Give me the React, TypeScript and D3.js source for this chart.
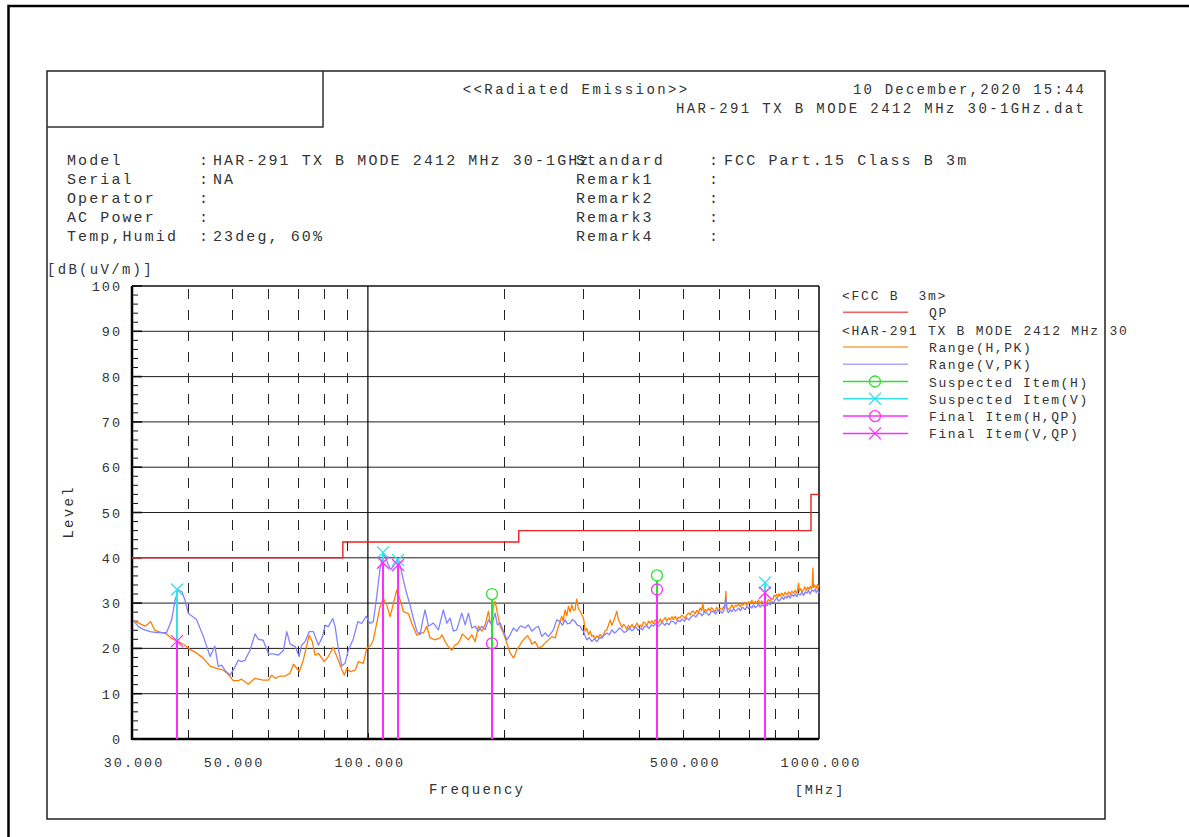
import React, { useEffect, useRef } from 'react';
import * as d3 from 'd3';

// QP limit (FCC Class B 3m), step starts [MHz, dBuV/m]
const limitQP: [number, number][] = [[30, 40], [88, 43.5], [216, 46], [960, 54], [1000, 54]];

// Range(H,PK) peak trace
const rangeH: [number, number][] = [
  [30.2, 26.2], [31.3, 25.4], [32.1, 24.9], [33.0, 25.9], [33.7, 24.0], [34.9, 23.5], [35.8, 23.2], [36.7, 22.2],
  [38.0, 21.5], [39.3, 20.7], [40.3, 19.8], [41.7, 19.0], [43.2, 17.8], [44.7, 16.1], [46.2, 15.6], [47.8, 15.2],
  [49.0, 14.3], [50.3, 12.9], [51.6, 12.9], [52.5, 13.2], [54.3, 12.1], [56.2, 13.4], [58.6, 13.0], [60.2, 13.0],
  [61.2, 14.1], [62.3, 13.4], [63.9, 13.9], [65.5, 13.9], [67.2, 14.5], [68.4, 16.5], [70.5, 14.9], [71.9, 17.4],
  [72.8, 19.6], [74.1, 22.9], [75.3, 21.5], [76.4, 18.5], [77.7, 18.9], [80.0, 17.1], [81.7, 18.2], [83.8, 20.2],
  [86.0, 17.4], [87.5, 15.4], [88.7, 14.1], [89.8, 15.6], [91.3, 14.9], [93.7, 15.2], [95.3, 17.1], [97.7, 16.7],
  [99.4, 20.0], [101.5, 20.7], [102.8, 21.8], [104.6, 25.5], [106.4, 29.2], [108.2, 31.0], [110.1, 29.6], [112.0, 27.0],
  [113.9, 29.9], [115.9, 32.9], [117.9, 30.7], [119.9, 28.1], [123.0, 27.7], [125.1, 25.5], [128.4, 22.9], [130.5, 23.5],
  [132.8, 23.4], [135.1, 24.9], [137.4, 22.3], [140.9, 21.9], [144.6, 22.3], [146.0, 23.0], [148.3, 21.5], [150.8, 20.4],
  [153.5, 19.6], [156.1, 20.8], [158.0, 21.0], [160.1, 21.9], [162.0, 23.2], [164.3, 22.6], [167.0, 21.9], [170.0, 23.0],
  [172.9, 21.5], [175.8, 24.9], [178.9, 23.8], [181.9, 25.2], [185.0, 28.2], [186.5, 26.0], [188.2, 25.2], [189.5, 29.0],
  [191.4, 30.4], [193.7, 27.8], [196.4, 24.9], [199.7, 23.4], [203.2, 21.2], [205.0, 20.0], [206.7, 19.0], [210.2, 17.9],
  [211.5, 18.4], [213.9, 19.7], [217.5, 20.8], [220.0, 21.6], [223.1, 22.3], [226.0, 22.8], [228.9, 21.9], [231.0, 20.9],
  [234.8, 21.5], [238.8, 20.1], [243.0, 20.4], [246.0, 21.0], [249.3, 21.5], [252.0, 22.0], [255.7, 22.6], [260.1, 22.3],
  [264.5, 24.9], [266.8, 26.0], [269.1, 27.1], [271.0, 26.0], [273.7, 28.5], [276.0, 27.2], [278.3, 29.3], [280.8, 28.0],
  [283.2, 29.6], [285.5, 28.4], [288.0, 28.5], [289.0, 29.8], [290.5, 30.9], [292.5, 28.9], [295.5, 28.2], [298.0, 27.5],
  [300.5, 26.7], [302.0, 25.3], [303.1, 23.8], [305.8, 24.4], [308.3, 23.0], [311.0, 23.8], [313.7, 22.6], [316.2, 22.9],
  [319.0, 22.1], [321.8, 22.8], [324.4, 22.3], [327.0, 23.1], [330.1, 22.5], [332.8, 23.0], [335.5, 23.9], [338.6, 24.1],
  [341.5, 25.2], [344.4, 26.3], [347.4, 25.1], [350.2, 25.9], [353.0, 27.0], [356.4, 28.2], [359.0, 26.4], [362.4, 25.6],
  [366.0, 24.6], [369.0, 25.3], [371.8, 24.9], [375.0, 24.2], [378.0, 25.1], [381.4, 24.5], [385.0, 25.3], [388.0, 24.6],
  [391.3, 24.9], [395.0, 25.6], [398.0, 24.8], [401.4, 25.2], [405.0, 24.7], [408.0, 25.8], [411.8, 25.6], [415.4, 25.0],
  [419.0, 26.0], [422.4, 25.6], [426.0, 26.1], [429.6, 25.5], [433.3, 26.3], [437.6, 25.9], [440.7, 25.6], [445.0, 26.5],
  [448.0, 25.8], [452.1, 26.3], [456.0, 26.8], [460.0, 26.0], [464.0, 26.7], [467.8, 26.3], [472.0, 27.0], [475.8, 26.4],
  [480.0, 27.1], [484.1, 26.3], [488.0, 26.9], [492.3, 26.7], [496.0, 27.3], [500.7, 27.1], [505.0, 26.6], [509.5, 27.4],
  [514.0, 27.8], [518.1, 27.4], [522.0, 28.1], [526.9, 28.2], [531.0, 27.6], [536.0, 28.4], [540.0, 27.9], [545.2, 28.9],
  [549.0, 28.3], [552.8, 30.0], [556.0, 28.0], [560.0, 28.6], [564.2, 28.2], [569.0, 28.9], [574.0, 28.3], [578.0, 29.0],
  [583.6, 28.5], [588.0, 28.1], [593.0, 29.1], [598.0, 28.4], [603.9, 28.9], [609.0, 28.5], [614.0, 29.2], [618.0, 28.7],
  [621.7, 32.6], [624.0, 29.0], [630.0, 28.6], [635.5, 28.9], [641.0, 29.6], [646.0, 28.9], [652.0, 29.5], [657.6, 29.3],
  [663.0, 29.9], [669.0, 29.2], [674.0, 29.8], [680.1, 29.6], [686.0, 30.2], [692.0, 29.5], [698.0, 30.3], [703.8, 30.0],
  [710.0, 30.6], [716.0, 29.8], [722.0, 30.4], [728.3, 30.0], [734.0, 30.7], [740.0, 29.9], [746.0, 30.5], [753.3, 30.0],
  [760.0, 30.3], [766.0, 30.1], [772.0, 30.8], [779.5, 30.4], [785.0, 31.0], [790.0, 30.8], [795.0, 31.7], [799.6, 31.5],
  [805.0, 31.9], [810.0, 31.3], [815.0, 32.1], [820.3, 31.5], [827.0, 32.2], [834.0, 31.6], [841.0, 32.4], [848.9, 31.8],
  [856.0, 32.5], [863.0, 31.9], [870.0, 32.6], [877.9, 32.2], [885.0, 32.8], [892.0, 32.1], [897.0, 33.0], [900.6, 34.4],
  [904.0, 32.6], [910.0, 33.2], [917.0, 32.5], [923.9, 32.9], [930.0, 33.6], [937.0, 32.8], [944.0, 33.5], [950.0, 33.0],
  [956.1, 33.7], [962.0, 33.1], [966.0, 33.9], [969.3, 37.7], [972.0, 33.4], [976.0, 34.0], [980.8, 33.7], [986.0, 33.2],
  [992.0, 34.1], [996.0, 33.4], [1000, 34.0],
];

// Range(V,PK) peak trace
const rangeV: [number, number][] = [
  [30.2, 26.2], [31.0, 24.8], [31.8, 24.2], [32.9, 23.7], [34.0, 23.5], [35.8, 23.5], [36.7, 26.2], [37.4, 30.7],
  [38.0, 32.9], [38.7, 32.5], [39.3, 30.7], [40.0, 27.7], [41.7, 26.4], [43.2, 22.6], [44.7, 18.2], [45.8, 20.5],
  [46.6, 16.0], [47.4, 16.3], [48.2, 15.2], [49.5, 14.1], [50.3, 15.2], [51.6, 17.4], [52.5, 17.1], [53.4, 17.4],
  [54.8, 19.6], [56.2, 23.2], [57.2, 22.0], [58.6, 21.8], [60.2, 18.8], [61.7, 18.8], [63.3, 18.5], [65.0, 19.6],
  [66.1, 23.7], [67.2, 21.0], [69.0, 20.4], [70.4, 18.2], [71.3, 20.7], [72.6, 21.5], [74.1, 23.7], [75.7, 23.7],
  [77.7, 20.7], [79.3, 22.6], [80.4, 25.1], [81.7, 24.8], [83.6, 26.6], [84.6, 24.8], [86.0, 20.0], [87.5, 16.1],
  [89.0, 16.7], [90.5, 19.6], [92.9, 22.2], [95.0, 25.9], [96.9, 25.5], [99.1, 27.1], [101.1, 25.5], [102.8, 25.9],
  [104.6, 31.4], [106.4, 37.6], [108.2, 40.8], [109.4, 40.2], [110.8, 38.6], [112.3, 37.4], [114.2, 38.3], [116.4, 39.8],
  [118.2, 37.8], [119.9, 35.0], [122.0, 32.0], [124.0, 29.6], [126.1, 26.7], [128.4, 23.8], [130.5, 23.0], [132.2, 26.0],
  [133.9, 28.5], [136.2, 24.9], [139.7, 25.6], [143.3, 24.1], [147.0, 28.5], [149.6, 25.6], [152.1, 26.7], [154.7, 23.8],
  [157.4, 24.1], [161.5, 27.8], [164.3, 25.2], [167.0, 27.8], [170.0, 24.5], [172.9, 24.9], [175.8, 23.8], [178.9, 24.9],
  [181.9, 24.1], [185.0, 26.3], [188.2, 25.2], [191.4, 27.8], [193.7, 25.2], [196.4, 25.6], [199.7, 23.8], [203.2, 21.9],
  [206.7, 23.0], [210.2, 24.5], [213.9, 23.8], [217.5, 24.9], [219.4, 24.9], [223.1, 24.5], [226.9, 25.2], [230.9, 23.8],
  [234.8, 24.5], [238.8, 24.9], [243.0, 22.6], [247.1, 23.4], [251.3, 22.6], [257.8, 24.1], [262.3, 26.3], [266.8, 25.9],
  [270.0, 25.1], [273.7, 26.3], [277.0, 25.4], [280.8, 25.6], [284.0, 26.4], [288.0, 25.9], [291.5, 25.1], [295.5, 24.9],
  [298.0, 24.2], [300.5, 23.8], [303.0, 22.8], [305.8, 21.9], [309.5, 22.4], [313.7, 21.5], [317.5, 22.1], [321.8, 21.5],
  [326.0, 22.3], [330.1, 22.3], [334.0, 22.9], [338.6, 23.4], [343.0, 23.0], [347.4, 24.1], [352.0, 23.4], [356.4, 23.8],
  [361.0, 24.5], [365.6, 24.1], [370.0, 23.5], [375.0, 23.8], [380.0, 24.5], [384.0, 23.9], [387.9, 24.1], [392.0, 24.8],
  [397.0, 24.0], [401.4, 24.5], [406.0, 24.1], [411.0, 24.9], [415.4, 24.9], [420.0, 24.4], [425.0, 25.2], [429.6, 24.9],
  [434.0, 25.5], [439.0, 24.8], [444.5, 25.2], [449.0, 25.8], [455.0, 25.1], [460.0, 25.6], [465.0, 25.2], [470.0, 26.0],
  [475.8, 25.9], [481.0, 25.4], [487.0, 26.2], [492.3, 25.9], [497.0, 26.5], [503.0, 26.0], [509.5, 26.7], [515.0, 26.3],
  [521.0, 27.0], [526.9, 27.4], [533.0, 26.9], [539.0, 27.6], [545.2, 27.8], [551.0, 27.2], [557.0, 28.0], [564.2, 27.8],
  [570.0, 27.3], [577.0, 28.1], [583.6, 28.2], [590.0, 27.6], [597.0, 28.4], [603.9, 28.2], [610.0, 27.8], [616.0, 28.5],
  [621.7, 31.1], [626.0, 28.3], [630.0, 27.9], [635.5, 28.5], [641.0, 28.1], [647.0, 28.8], [652.0, 28.2], [657.6, 28.5],
  [664.0, 28.9], [670.0, 28.3], [675.0, 29.1], [680.1, 28.9], [686.0, 28.5], [692.0, 29.3], [698.0, 28.8], [703.8, 29.3],
  [710.0, 28.9], [716.0, 29.6], [722.0, 29.0], [728.3, 29.3], [735.0, 29.8], [741.0, 29.1], [747.0, 29.7], [753.3, 29.3],
  [760.0, 29.9], [766.0, 29.4], [773.0, 30.0], [779.5, 29.6], [786.0, 30.3], [793.0, 30.1], [799.6, 30.7], [806.0, 31.2],
  [813.0, 30.5], [820.3, 30.7], [828.0, 31.3], [835.0, 30.8], [842.0, 31.5], [848.9, 31.1], [856.0, 31.7], [863.0, 31.1],
  [870.0, 31.9], [877.9, 31.5], [885.0, 32.0], [893.0, 31.4], [900.0, 32.1], [908.5, 31.8], [916.0, 32.4], [924.0, 31.7],
  [932.0, 32.5], [940.1, 32.2], [948.0, 32.8], [956.0, 32.0], [964.0, 32.9], [972.3, 32.6], [980.0, 33.1], [986.0, 32.3],
  [993.0, 32.9], [1000, 32.2],
];

// measured items [MHz, dBuV/m]
const suspectedH: [number, number][] = [[188.6, 32.0], [437.6, 36.1]];
const suspectedV: [number, number][] = [[37.8, 33.0], [108.2, 41.2], [116.6, 39.5], [761, 34.5]];
const finalH: [number, number][] = [[188.6, 21.1], [437.6, 33.0]];
const finalV: [number, number][] = [[37.8, 21.6], [108.2, 38.9], [116.6, 38.4], [761, 32.3]];

const yTicks = [0, 10, 20, 30, 40, 50, 60, 70, 80, 90, 100];
const xTickLabels = [30, 50, 100, 500, 1000];
const xDashed = [40, 50, 60, 70, 80, 90, 200, 300, 400, 500, 600, 700, 800, 900];

const infoLeft = [
  ['Model', 'HAR-291 TX B MODE 2412 MHz 30-1GHz'],
  ['Serial', 'NA'],
  ['Operator', ''],
  ['AC Power', ''],
  ['Temp,Humid', '23deg, 60%'],
];
const infoRight = [
  ['Standard', 'FCC Part.15 Class B 3m'],
  ['Remark1', ''],
  ['Remark2', ''],
  ['Remark3', ''],
  ['Remark4', ''],
];

const C = {
  text: '#333',
  grid: '#1e1e1e',
  limit: '#ee2020',
  h: '#ff7f00',
  v: '#8282ff',
  green: '#2ee02e',
  cyan: '#33e3ea',
  magenta: '#ff2cff',
};

const legendRows = [
  { title: '<FCC B  3m>' },
  { label: 'QP', color: '#f26060', marker: '' },
  { title: '<HAR-291 TX B MODE 2412 MHz 30' },
  { label: 'Range(H,PK)', color: '#ffa040', marker: '' },
  { label: 'Range(V,PK)', color: '#a8a8ff', marker: '' },
  { label: 'Suspected Item(H)', color: C.green, marker: 'o' },
  { label: 'Suspected Item(V)', color: C.cyan, marker: 'x' },
  { label: 'Final Item(H,QP)', color: C.magenta, marker: 'o' },
  { label: 'Final Item(V,QP)', color: C.magenta, marker: 'x' },
];

const MONO = '"Liberation Mono", "DejaVu Sans Mono", monospace';
const plot = { left: 132, right: 819, top: 286, bottom: 739 };

const App = () => {
  const ref = useRef<SVGSVGElement>(null);

  useEffect(() => {
    const svg = d3.select(ref.current);
    svg.selectAll('*').remove();

    const x = d3.scaleLog().domain([30, 1000]).range([plot.left, plot.right]);
    const y = d3.scaleLinear().domain([0, 100]).range([plot.bottom, plot.top]);
    const px = (f) => Math.round(x(f)) + 0.5;

    const text = (tx, ty, s, size, ls, anchor = 'start') => {
      // chrome adds letter-spacing after the last glyph too
      const shift = anchor === 'end' ? ls : anchor === 'middle' ? ls / 2 : 0;
      return svg.append('text')
        .attr('x', tx + shift)
        .attr('y', ty)
        .attr('font-family', MONO)
        .attr('font-size', size)
        .attr('letter-spacing', ls)
        .attr('text-anchor', anchor)
        .attr('fill', C.text)
        .style('white-space', 'pre')
        .text(s);
    };

    // page frames
    svg.append('path').attr('d', 'M8.5,837 V6 H1189').attr('fill', 'none')
      .attr('stroke', '#000').attr('stroke-width', 2.5);
    svg.append('rect').attr('x', 47).attr('y', 71).attr('width', 1058).attr('height', 748)
      .attr('fill', 'none').attr('stroke', '#222').attr('stroke-width', 1.5);
    svg.append('path').attr('d', 'M47,127 H323 V71').attr('fill', 'none')
      .attr('stroke', '#333').attr('stroke-width', 1.5);

    // header
    text(575, 94, '<<Radiated Emission>>', 14, 2.4, 'middle');
    text(1084, 94, '10 December,2020 15:44', 14, 2.2, 'end');
    text(1084, 113, 'HAR-291 TX B MODE 2412 MHz 30-1GHz.dat', 14, 2.4, 'end');

    // info block
    infoLeft.forEach(([k, v], i) => {
      const ty = 165 + i * 19;
      text(67, ty, k, 15, 2.1);
      text(199, ty, ':', 15, 2.1);
      if (v) text(213, ty, v, 15, 2.1);
    });
    infoRight.forEach(([k, v], i) => {
      const ty = 165 + i * 19;
      text(576, ty, k, 15, 2.1);
      text(709, ty, ':', 15, 2.1);
      if (v) text(724, ty, v, 15, 2.1);
    });

    text(47, 274, '[dB(uV/m)]', 14, 2.3);

    // grid
    svg.append('g').selectAll('line').data(yTicks.filter(d => d > 0 && d < 100)).join('line')
      .attr('x1', plot.left).attr('x2', plot.right)
      .attr('y1', d => y(d)).attr('y2', d => y(d))
      .attr('stroke', C.grid).attr('stroke-width', 1);
    svg.append('g').selectAll('line').data(xDashed).join('line')
      .attr('x1', px).attr('x2', px)
      .attr('y1', plot.top + 3).attr('y2', plot.bottom)
      .attr('stroke', '#222').attr('stroke-width', 1).attr('stroke-dasharray', '10,11');
    svg.append('line')
      .attr('x1', x(100)).attr('x2', x(100)).attr('y1', plot.top).attr('y2', plot.bottom)
      .attr('stroke', '#111').attr('stroke-width', 1.3);

    // frame of the plot
    svg.append('line').attr('x1', plot.left).attr('x2', plot.right).attr('y1', plot.top).attr('y2', plot.top)
      .attr('stroke', '#111').attr('stroke-width', 1.3);
    svg.append('line').attr('x1', plot.right).attr('x2', plot.right).attr('y1', plot.top).attr('y2', plot.bottom)
      .attr('stroke', '#111').attr('stroke-width', 1.6);
    svg.append('line').attr('x1', plot.left).attr('x2', plot.left).attr('y1', plot.top).attr('y2', plot.bottom + 1)
      .attr('stroke', '#000').attr('stroke-width', 2.5);
    svg.append('line').attr('x1', plot.left).attr('x2', plot.right).attr('y1', plot.bottom).attr('y2', plot.bottom)
      .attr('stroke', '#000').attr('stroke-width', 2.5);

    // y minor/major ticks
    svg.append('g').selectAll('line').data(d3.range(0, 101, 2)).join('line')
      .attr('x1', plot.left).attr('x2', d => plot.left + (d % 10 === 0 ? 10 : 6))
      .attr('y1', d => y(d)).attr('y2', d => y(d))
      .attr('stroke', '#111').attr('stroke-width', d => (d % 10 === 0 ? 1.6 : 1));
    // x ticks
    svg.append('g').selectAll('line').data([...xDashed, 100]).join('line')
      .attr('x1', px).attr('x2', px)
      .attr('y1', plot.bottom).attr('y2', plot.bottom - 6)
      .attr('stroke', '#111').attr('stroke-width', 1);

    // tick labels
    yTicks.forEach(d => text(120, y(d) + 5, String(d), 13.5, 2, 'end'));
    xTickLabels.forEach(d => text(x(d) + 1, 767, d3.format('.3f')(d), 13.5, 2, 'middle'));
    text(476, 794, 'Frequency', 14, 2.3, 'middle');
    text(819, 794, '[MHz]', 13.5, 2, 'middle');
    text(0, 0, 'Level', 14, 2.3, 'middle')
      .attr('transform', 'translate(73,513) rotate(-90)');

    // limit line
    const line = d3.line<[number, number]>().x(d => x(d[0])).y(d => y(d[1]));
    svg.append('path').datum(limitQP)
      .attr('d', d3.line<[number, number]>().x(d => x(d[0])).y(d => y(d[1])).curve(d3.curveStepAfter))
      .attr('fill', 'none').attr('stroke', C.limit).attr('stroke-width', 1.4);

    // traces
    svg.append('path').datum(rangeH).attr('d', line)
      .attr('fill', 'none').attr('stroke', C.h).attr('stroke-width', 1.3).attr('stroke-linejoin', 'round');
    svg.append('path').datum(rangeV).attr('d', line)
      .attr('fill', 'none').attr('stroke', C.v).attr('stroke-width', 1.3).attr('stroke-linejoin', 'round');

    const drawMarker = (g, cx, cy, kind, color) => {
      if (kind === 'o') {
        g.append('circle').attr('cx', cx).attr('cy', cy).attr('r', 5.5)
          .attr('fill', 'none').attr('stroke', color).attr('stroke-width', 1.3);
      } else if (kind === 'x') {
        g.append('path').attr('d', `M${cx - 6},${cy - 6}L${cx + 6},${cy + 6}M${cx - 6},${cy + 6}L${cx + 6},${cy - 6}`)
          .attr('fill', 'none').attr('stroke', color).attr('stroke-width', 1.3);
      }
    };

    // suspected items first, final QP items on top
    const items = [
      { data: suspectedH, kind: 'o', color: C.green, w: 2 },
      { data: suspectedV, kind: 'x', color: C.cyan, w: 2 },
      { data: finalH, kind: 'o', color: C.magenta, w: 2 },
      { data: finalV, kind: 'x', color: C.magenta, w: 2 },
    ];
    const mk = svg.append('g');
    items.forEach(it => {
      it.data.forEach(([f, v]) => {
        const cx = Math.round(x(f));
        const offset = it.kind === 'o' ? 5.5 : 0;
        mk.append('line').attr('x1', cx).attr('x2', cx)
          .attr('y1', y(v) + offset).attr('y2', plot.bottom)
          .attr('stroke', it.color).attr('stroke-width', it.w);
        drawMarker(mk, cx, y(v), it.kind, it.color);
      });
    });

    // legend
    const lg = svg.append('g');
    legendRows.forEach((r, i) => {
      const ly = 295 + i * 17.3;
      if (r.title) {
        text(842, ly + 5, r.title, 13, 1.75);
        return;
      }
      lg.append('line').attr('x1', 843).attr('x2', 908).attr('y1', ly).attr('y2', ly)
        .attr('stroke', r.color).attr('stroke-width', 1.5);
      drawMarker(lg, 875, ly, r.marker, r.color);
      text(929, ly + 5, r.label, 13, 1.6);
    });
  }, []);

  return (
    <svg ref={ref} width={1189} height={837}
      style={{ position: 'absolute', left: 0, top: 0, background: '#fff' }} />
  );
};

export default App;
